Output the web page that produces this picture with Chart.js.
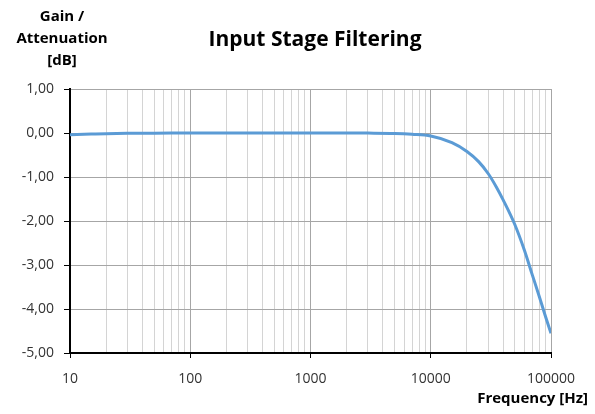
<!DOCTYPE html>
<html lang="en">
<head>
  <meta charset="UTF-8" />
  <title>Input Stage Filtering</title>
  <script src="https://cdn.jsdelivr.net/npm/chart.js"></script>
  <style>
    html, body {
      margin: 0;
      padding: 0;
      background-color: #fff;
    }
    .chart-container {
      width: 595px;
      height: 414px;
    }
  </style>
</head>
<body>
  <div class="chart-container">
    <canvas id="filterChart"></canvas>
  </div>

  <script>
    // frequency response
    const freqHz = [10, 15, 20, 30, 50, 70, 100, 200, 500, 1000, 2000, 3000, 5000, 7000,
                    10000, 15000, 20000, 25000, 30000, 35000, 40000, 50000, 60000, 70000,
                    80000, 90000, 100000];
    const gainDb = [-0.04, -0.025, -0.015, -0.008, -0.004, -0.002, 0, 0, 0, 0, 0, -0.002, -0.01, -0.03,
                    -0.07, -0.22, -0.42, -0.65, -0.92, -1.22, -1.52, -2.08, -2.66, -3.23,
                    -3.72, -4.17, -4.55];

    const decadeLabels = [10, 100, 1000, 10000, 100000];
    const yTicks = [1, 0, -1, -2, -3, -4, -5];

    const chartTitle = 'Input Stage Filtering';
    const yTitleLines = ['Gain /', 'Attenuation', '[dB]'];
    const xTitle = 'Frequency [Hz]';

    // 1..9 x each decade for the log grid
    const gridTicks = [];
    decadeLabels.forEach((d, i) => {
      if (i === decadeLabels.length - 1) { gridTicks.push(d); return; }
      for (let m = 1; m <= 9; m++) gridTicks.push(d * m);
    });

    const isDecade = v => decadeLabels.includes(v);

    const textPlugin = {
      id: 'axisTexts',
      afterDraw(chart) {
        const { ctx, chartArea } = chart;
        ctx.save();
        ctx.fillStyle = '#000';
        ctx.textBaseline = 'middle';

        ctx.font = 'bold 21px "Open Sans"';
        ctx.textAlign = 'center';
        ctx.fillText(chartTitle, chartArea.left + 245, 40);

        ctx.font = 'bold 15px "Open Sans"';
        yTitleLines.forEach((line, i) => {
          ctx.fillText(line, chartArea.left - 8, 17 + i * 22);
        });

        ctx.textAlign = 'right';
        ctx.fillText(xTitle, chartArea.right + 37, 399);
        ctx.restore();
      }
    };

    const ctx = document.getElementById('filterChart').getContext('2d');
    new Chart(ctx, {
      type: 'scatter',
      data: {
        datasets: [{
          label: 'Gain',
          data: freqHz.map((f, i) => ({ x: f, y: gainDb[i] })),
          showLine: true,
          borderColor: '#5B9BD5',
          borderWidth: 3,
          pointRadius: 0,
          cubicInterpolationMode: 'monotone'
        }]
      },
      options: {
        responsive: true,
        maintainAspectRatio: false,
        animation: false,
        layout: {
          padding: { top: 89, right: 44, bottom: 0, left: 0 }
        },
        plugins: {
          legend: { display: false },
          tooltip: { enabled: false }
        },
        scales: {
          x: {
            type: 'logarithmic',
            min: 10,
            max: 100000,
            afterBuildTicks: scale => {
              scale.ticks = gridTicks.map(v => ({ value: v }));
            },
            afterFit: scale => { scale.height = 61; },
            border: { color: '#000', width: 2 },
            grid: {
              color: c => isDecade(c.tick && c.tick.value) ? '#a6a6a6' : '#d4d4d4',
              tickColor: c => isDecade(c.tick && c.tick.value) ? '#000' : 'rgba(0,0,0,0)',
              tickLength: 5,
              lineWidth: 1
            },
            ticks: {
              autoSkip: false,
              maxRotation: 0,
              padding: 13,
              color: '#333',
              font: { family: '"Open Sans"', size: 14 },
              callback: v => isDecade(v) ? String(v) : ''
            }
          },
          y: {
            min: -5,
            max: 1,
            afterBuildTicks: scale => {
              scale.ticks = yTicks.map(v => ({ value: v }));
            },
            afterFit: scale => { scale.width = 70; },
            border: { color: '#000', width: 2 },
            grid: {
              color: '#a6a6a6',
              tickColor: '#000',
              tickLength: 6,
              lineWidth: 1
            },
            ticks: {
              padding: 10,
              color: '#333',
              font: { family: '"Open Sans"', size: 14 },
              callback: v => v.toFixed(2).replace('.', ',')
            }
          }
        }
      },
      plugins: [textPlugin]
    });
  </script>
</body>
</html>
